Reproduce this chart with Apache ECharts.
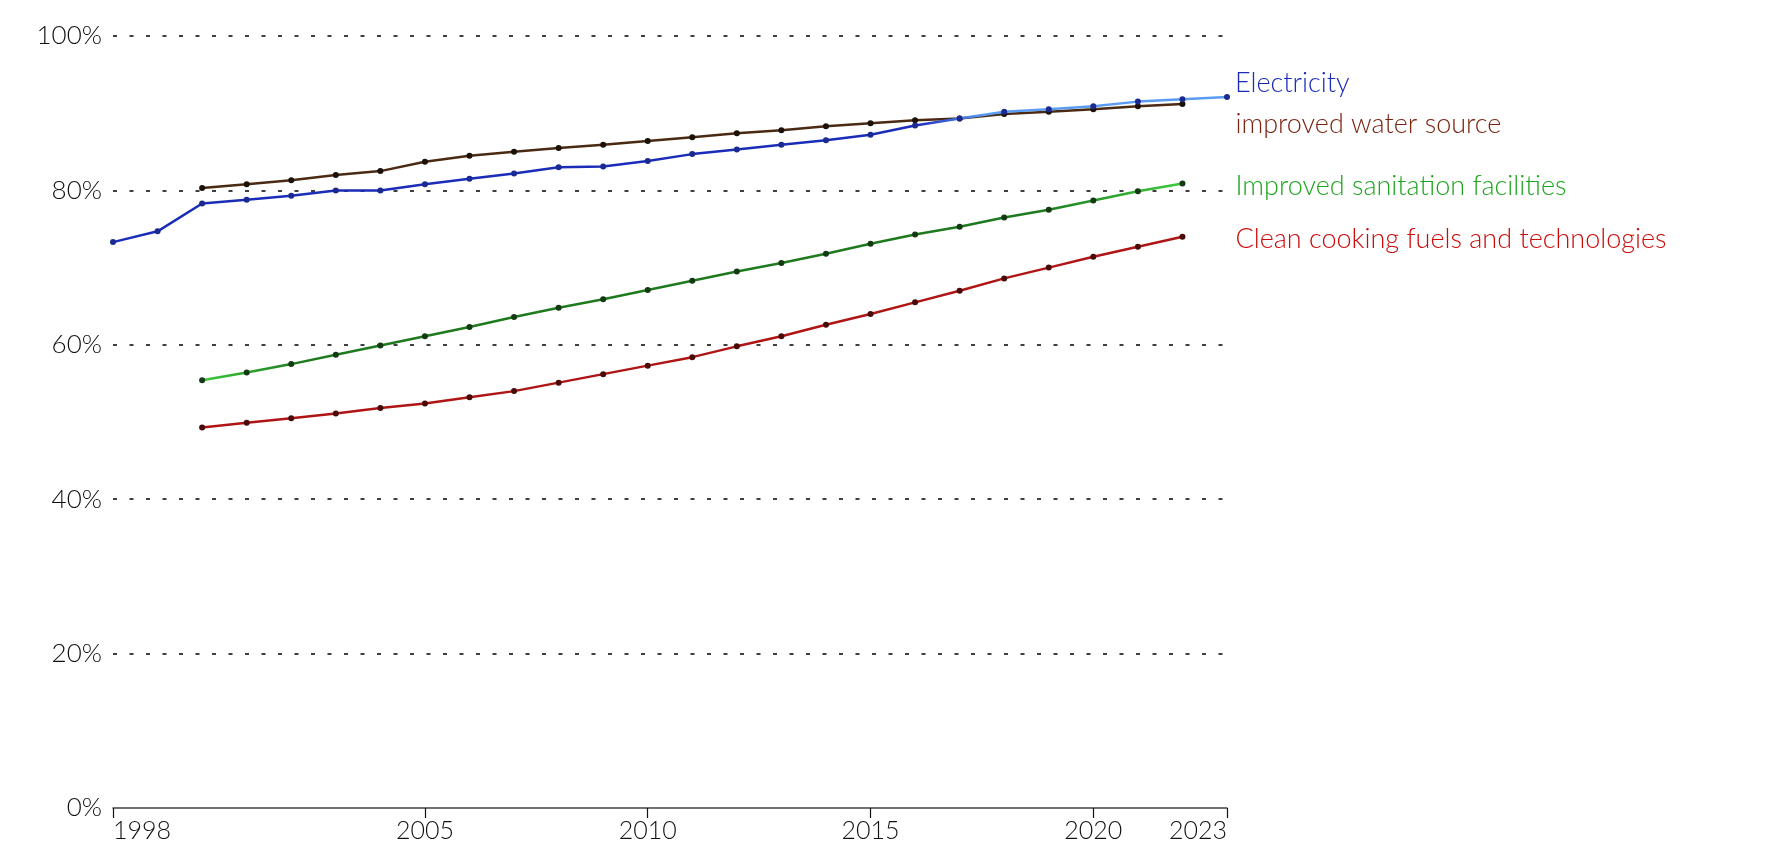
<!DOCTYPE html>
<html>
<head>
<meta charset="utf-8">
<script src="https://cdn.jsdelivr.net/npm/echarts@6/dist/echarts.min.js"></script>
<style>
html,body{margin:0;padding:0;background:#fff;}
#chart{width:1772px;height:865px;}
</style>
</head>
<body>
<div id="chart"></div>
<script>
const years = ['1998','1999','2000','2001','2002','2003','2004','2005','2006','2007','2008','2009','2010','2011','2012','2013','2014','2015','2016','2017','2018','2019','2020','2021','2022','2023'];
const shownYears = ['1998','2005','2010','2015','2020','2023'];
const yTicks = [0, 20, 40, 60, 80, 100];

const electricity = [73.3, 74.7, 78.3, 78.8, 79.3, 80.0, 80.0, 80.8, 81.5, 82.2, 83.0, 83.1, 83.8, 84.7, 85.3, 85.9, 86.5, 87.2, 88.4, 89.3, 90.2, 90.5, 90.9, 91.5, 91.8, 92.1];
const water = [null, null, 80.3, 80.8, 81.3, 82.0, 82.5, 83.7, 84.5, 85.0, 85.5, 85.9, 86.4, 86.9, 87.4, 87.8, 88.3, 88.7, 89.1, 89.3, 89.9, 90.2, 90.5, 90.9, 91.2, null];
const sanitation = [null, null, 55.4, 56.4, 57.5, 58.7, 59.9, 61.1, 62.3, 63.6, 64.8, 65.9, 67.1, 68.3, 69.5, 70.6, 71.8, 73.1, 74.3, 75.3, 76.5, 77.5, 78.7, 79.9, 80.9, null];
const cooking = [null, null, 49.3, 49.9, 50.5, 51.1, 51.8, 52.4, 53.2, 54.0, 55.1, 56.2, 57.3, 58.4, 59.8, 61.1, 62.6, 64.0, 65.5, 67.0, 68.6, 70.0, 71.4, 72.7, 74.0, null];

const seriesNames = ['Electricity', 'improved water source', 'Improved sanitation facilities', 'Clean cooking fuels and technologies'];

const chart = echarts.init(document.getElementById('chart'));
const FONT = 'Lato, "Noto Sans", sans-serif';

function mkLine(name, data, lineColor, dotColor, labelColor, offset, z) {
  return {
    name: name,
    type: 'line',
    data: data,
    z: z,
    symbol: 'circle',
    symbolSize: 6,
    showSymbol: true,
    connectNulls: false,
    lineStyle: { color: lineColor, width: 2.5 },
    itemStyle: { color: dotColor, borderWidth: 0 },
    emphasis: { disabled: true },
    endLabel: {
      show: true,
      formatter: name,
      color: labelColor,
      fontFamily: FONT,
      fontSize: 27,
      fontWeight: 300,
      distance: 0,
      offset: offset,
      align: 'left',
      verticalAlign: 'middle'
    }
  };
}

const option = {
  backgroundColor: '#fff',
  animation: false,
  grid: { left: 113, right: 545, top: 36, bottom: 57, containLabel: false },
  xAxis: {
    type: 'category',
    data: years,
    boundaryGap: false,
    axisLine: { show: true, lineStyle: { color: '#444', width: 1.5 } },
    axisTick: {
      show: true,
      length: 10,
      lineStyle: { color: '#111', width: 1.2 },
      interval: function (i, v) { return shownYears.indexOf(v) >= 0; }
    },
    axisLabel: {
      interval: function (i, v) { return shownYears.indexOf(v) >= 0; },
      color: '#111',
      fontFamily: FONT,
      fontSize: 25,
      fontWeight: 300,
      margin: 10,
      alignMinLabel: 'left',
      alignMaxLabel: 'right'
    },
    splitLine: { show: false }
  },
  yAxis: {
    type: 'value',
    min: yTicks[0],
    max: yTicks[yTicks.length - 1],
    interval: 20,
    axisLine: { show: false },
    axisTick: { show: false },
    axisLabel: {
      formatter: '{value}%',
      color: '#111',
      fontFamily: FONT,
      fontSize: 26,
      fontWeight: 300,
      margin: 11
    },
    splitLine: { show: true, showMinLine: false, lineStyle: { color: '#000', width: 1.5, type: [4, 12.5] } }
  },
  series: [
    mkLine(seriesNames[1], water, '#4a2a12', '#1a1208', '#7a2410', [53, 20], 2),
    mkLine(seriesNames[0], electricity,
      new echarts.graphic.LinearGradient(0, 0, 1, 0, [
        { offset: 0, color: '#1a2cb8' },
        { offset: 0.72, color: '#1a2cb8' },
        { offset: 0.78, color: '#5a9cf2' },
        { offset: 1, color: '#5a9cf2' }
      ]),
      '#1a2a90', '#1a2cb8', [8, -14], 3),
    mkLine(seriesNames[2], sanitation,
      new echarts.graphic.LinearGradient(0, 0, 1, 0, [
        { offset: 0, color: '#3ccc3c' },
        { offset: 0.1, color: '#1f7a1f' },
        { offset: 0.85, color: '#1f7a1f' },
        { offset: 1, color: '#3ccc3c' }
      ]),
      '#143a14', '#1fa51f', [53, 3], 2),
    mkLine(seriesNames[3], cooking, '#b01515', '#4a0a0a', '#cc0a0a', [53, 3], 2)
  ]
};
chart.setOption(option);
</script>
</body>
</html>
